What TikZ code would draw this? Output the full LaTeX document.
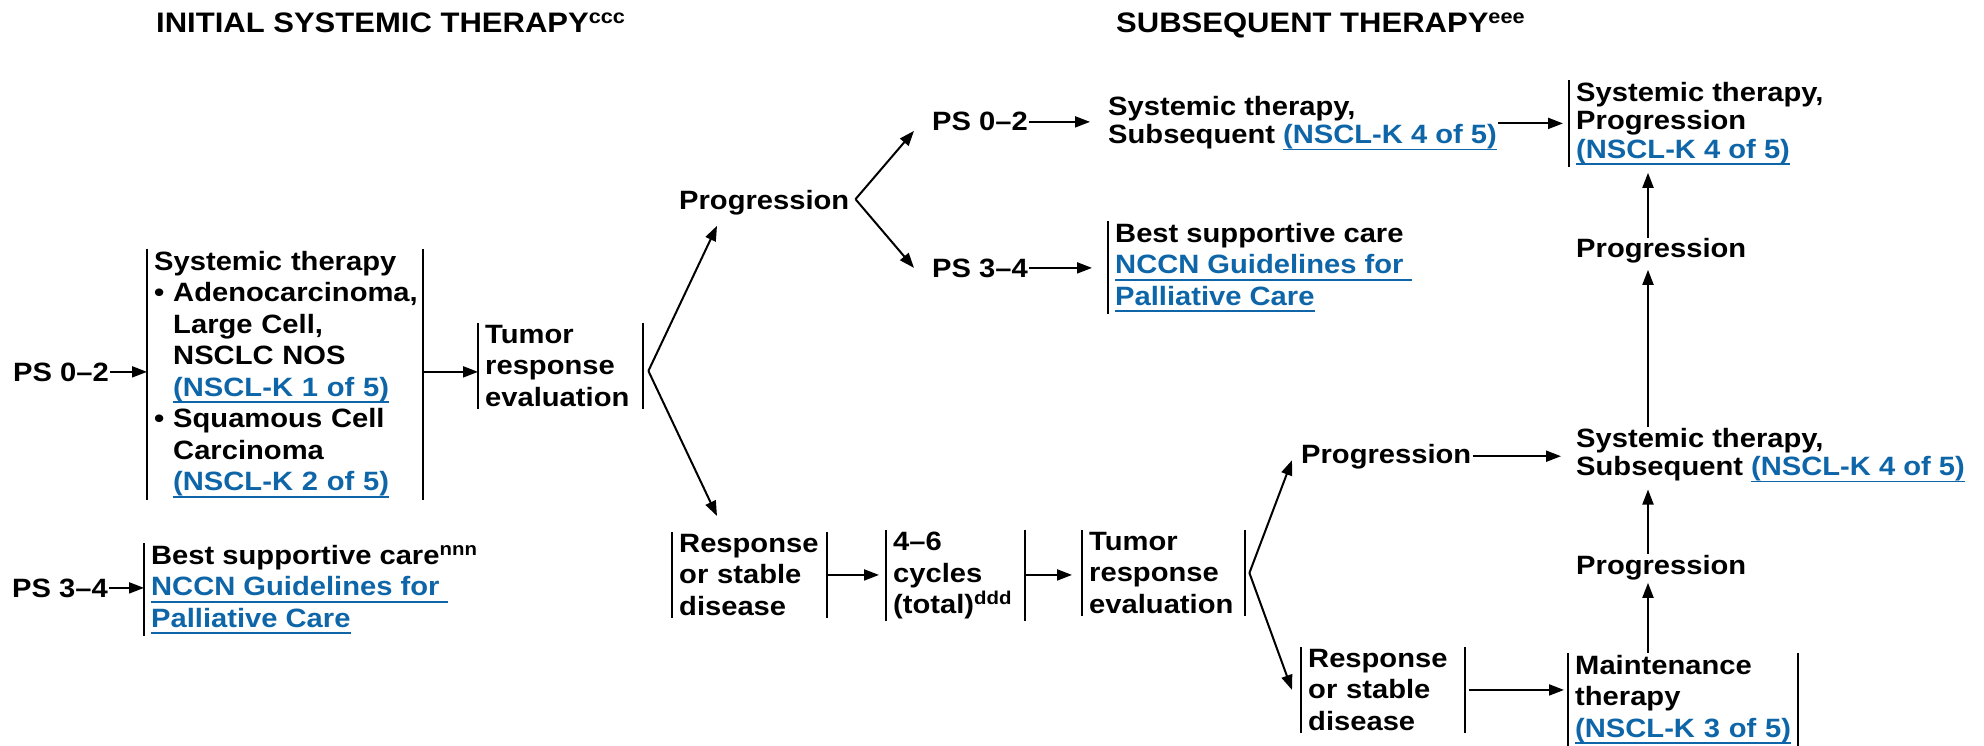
\documentclass[tikz,border=0pt]{standalone}
\usepackage{fontspec}
\usepackage{xcolor}
\usepackage{tikz}
\usetikzlibrary{arrows.meta,positioning}
\newfontfamily\nccnfont{Liberation Sans}[FakeStretch=1.1]
\newcommand{\sansall}{\nccnfont\bfseries}
\definecolor{lnk}{HTML}{0E66A8}
\newsavebox{\lnkbox}
\newcommand{\golink}[1]{\textcolor{lnk}{\sbox{\lnkbox}{#1}%
  \rlap{\rule[-6.6pt]{\wd\lnkbox}{1.7pt}}\usebox{\lnkbox}}}
\newcommand{\bul}{\hphantom{\textbullet\ }}
\tikzset{
  txt/.style={inner sep=1pt, align=left,
              font=\sansall\fontsize{26.5}{31.5}\selectfont},
  tight/.style={font=\sansall\fontsize{26.5}{28.3}\selectfont},
  brk/.style={txt, inner xsep=7pt, inner ysep=2pt, anchor=north west},
  brkw/.style={brk, text width=#1},
  ttl/.style={inner sep=1pt, anchor=base west,
              font=\sansall\fontsize{28.2}{34}\selectfont},
  ar/.style={-{Triangle[length=15pt,width=11pt]}, line width=2pt},
  bar/.style={line width=2pt},
}
\begin{document}
\begin{tikzpicture}[x=1pt, y=-1pt]
  \path[use as bounding box, fill=white] (0,0) rectangle (1984,746);

  % headings
  \node[ttl] (hd1) at (155,33) {INITIAL SYSTEMIC THERAPY\textsuperscript{ccc}};
  \node[ttl] (hd2) at (1115,33) {SUBSEQUENT THERAPY\textsuperscript{eee}};

  % initial systemic therapy
  \node[txt, anchor=base west] (ps02a) at (12,381) {PS 0–2};
  \node[brkw=262pt] (sys1) at (147,249)
       {Systemic therapy\\
        \mbox{\textbullet\ Adenocarcinoma,}\\
        \bul Large Cell,\\
        \bul NSCLC NOS\\
        \bul\golink{(NSCL-K 1 of 5)}\\
        \mbox{\textbullet\ Squamous Cell}\\
        \bul Carcinoma\\
        \bul\golink{(NSCL-K 2 of 5)}};
  \node[brkw=151pt] (tre1) at (478,323) {Tumor\\ response\\ evaluation};
  \node[txt, anchor=base west] (ps34a) at (11,597) {PS 3–4};
  \node[brk] (bsc2) at (144,543)
       {Best supportive care\textsuperscript{nnn}\\
        \golink{NCCN Guidelines for\ }\\
        \golink{Palliative Care}};

  \node[txt, anchor=base west] (prog1) at (678,210) {Progression};
  \node[brkw=141pt] (rsd1) at (672,532) {Response\\ or stable\\ disease};
  \node[brkw=125pt] (cyc) at (886,530) {4–6\\ cycles\\ (total)\textsuperscript{ddd}};
  \node[brkw=149pt] (tre2) at (1082,530) {Tumor\\ response\\ evaluation};

  % subsequent therapy
  \node[txt, anchor=base west] (ps02b) at (931,131) {PS 0–2};
  \node[txt, anchor=base west] (ps34b) at (931,277) {PS 3–4};
  \node[txt, tight, anchor=north west] (sub1) at (1107,95)
       {Systemic therapy,\\ Subsequent \golink{(NSCL-K 4 of 5)}};
  \node[brk] (bsc1) at (1108,221)
       {Best supportive care\\
        \golink{NCCN Guidelines for\ }\\
        \golink{Palliative Care}};
  \node[brk, tight] (tr) at (1569,80)
       {Systemic therapy,\\ Progression\\ \golink{(NSCL-K 4 of 5)}};
  \node[txt, anchor=base west] (prog2) at (1575,258) {Progression};
  \node[txt, tight, anchor=north west] (sub2) at (1575,427)
       {Systemic therapy,\\ Subsequent \golink{(NSCL-K 4 of 5)}};
  \node[txt, anchor=base west] (prog3) at (1575,574) {Progression};
  \node[txt, anchor=base west] (prog4) at (1300,463) {Progression};
  \node[brkw=150pt] (rsd2) at (1301,647) {Response\\ or stable\\ disease};
  \node[brkw=216pt] (mt) at (1568,653)
       {Maintenance\\ therapy\\ \golink{(NSCL-K 3 of 5)}};

  % side bars of the boxes
  \foreach \n in {sys1,tre1,rsd1,cyc,tre2,rsd2,mt}
    \draw[bar] (\n.north west) -- (\n.south west) (\n.north east) -- (\n.south east);
  \foreach \n in {bsc1,bsc2,tr}
    \draw[bar] (\n.north west) -- (\n.south west);

  % split points and the right-hand spine
  \coordinate (sp1) at ([xshift=5pt,yshift=-5pt]tre1.east);
  \coordinate (sp2) at ([xshift=4pt]tre2.east);
  \coordinate (sp3) at ([xshift=5pt,yshift=4pt]prog1.east);
  \coordinate (spine) at (1648,0);

  \draw[ar] (ps02a.east) -- (ps02a.east -| sys1.west);
  \draw[ar] (ps02a.east -| sys1.east) -- (ps02a.east -| tre1.west);
  \draw[ar] (ps34a.east) -- (ps34a.east -| bsc2.west);
  \draw[ar] (sp1) -- ([xshift=39pt,yshift=-9pt]prog1.south west);
  \draw[ar] (sp1) -- ([xshift=45pt,yshift=16pt]rsd1.north west);
  \draw[ar] (sp3) -- ([xshift=-17pt,yshift=-9pt]ps02b.west);
  \draw[ar] (sp3) -- ([xshift=-17pt]ps34b.west);
  \draw[ar, shorten >=17pt] (ps02b.east) -- (ps02b.east -| sub1.west);
  \draw[ar, shorten >=16pt] (ps34b.east) -- (ps34b.east -| bsc1.west);
  \draw[ar, shorten >=6pt] (tr.west -| sub1.east) -- (tr.west);
  \draw[ar, shorten >=7pt] (rsd1.east) -- (rsd1.east -| cyc.west);
  \draw[ar, shorten >=10pt] (rsd1.east -| cyc.east) -- (rsd1.east -| tre2.west);
  \draw[ar] (sp2) -- ([xshift=-8pt,yshift=-4pt]prog4.west);
  \draw[ar] (sp2) -- ([xshift=-9pt]rsd2.west);
  \draw[ar, shorten >=14pt] (prog4.east) -- (prog4.east -| sub2.west);
  \draw[ar, shorten <=4pt, shorten >=4pt] (rsd2.east) -- (rsd2.east -| mt.west);
  \draw[ar, shorten >=2pt] (mt.north -| spine) -- (prog3.south -| spine);
  \draw[ar, shorten >=6pt] (prog3.north -| spine) -- (sub2.south -| spine);
  \draw[ar, shorten >=5pt] (sub2.north -| spine) -- (prog2.south -| spine);
  \draw[ar, shorten >=6pt] (prog2.north -| spine) -- (tr.south -| spine);
\end{tikzpicture}
\end{document}
